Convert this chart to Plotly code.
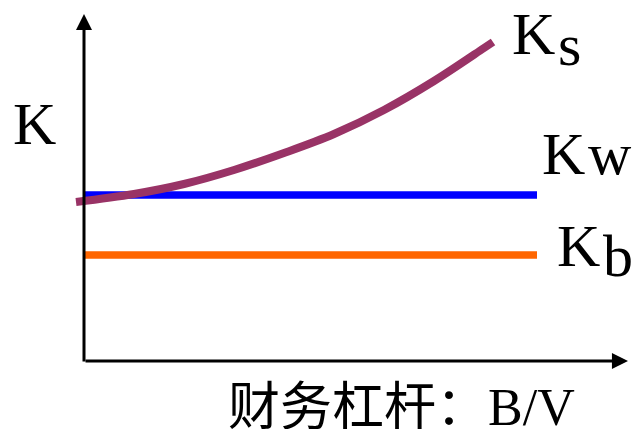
import plotly.graph_objects as go

# Financial leverage (B/V) on the x axis, cost of capital K on the y axis
leverage_ks = [-0.016, 0.1, 0.2, 0.3, 0.4, 0.5, 0.6, 0.7, 0.8, 0.818]
k_s = [1.59, 1.67, 1.77, 1.91, 2.08, 2.27, 2.51, 2.80, 3.13, 3.19]

leverage_flat = [0.0, 0.906]
k_w = [1.66, 1.66]
k_b = [1.06, 1.06]

axis_end_x = 1.088
axis_end_y = 3.47

SERIF = "Liberation Serif"
CJK = "Noto Sans CJK SC"

fig = go.Figure()
fig.add_trace(go.Scatter(x=leverage_flat, y=k_w, mode="lines",
                         line=dict(color="#0000FF", width=7.5), hoverinfo="skip"))
fig.add_trace(go.Scatter(x=leverage_flat, y=k_b, mode="lines",
                         line=dict(color="#FF6600", width=7.5), hoverinfo="skip"))
fig.add_trace(go.Scatter(x=leverage_ks, y=k_s, mode="lines",
                         line=dict(color="#993366", width=8, shape="spline"),
                         hoverinfo="skip"))

# Axes with arrowheads
for tip, base in [((0, axis_end_y), (0, -0.02)), ((axis_end_x, 0), (0, 0))]:
    fig.add_annotation(x=tip[0], y=tip[1], ax=base[0], ay=base[1],
                       xref="x", yref="y", axref="x", ayref="y",
                       showarrow=True, arrowhead=2, arrowsize=1.07,
                       arrowwidth=3, arrowcolor="black", text="")

def label(text, px, py, size, anchor="left"):
    fig.add_annotation(x=px / 636, y=1 - py / 429, xref="paper", yref="paper",
                       text=text, showarrow=False, xanchor=anchor, yanchor="middle",
                       font=dict(family=SERIF, size=size, color="black"))

label("K", 11, 124, 60)
label("K", 510, 34, 60)
label("s", 556, 45, 60)
label("K", 540, 154, 60)
label("w", 586, 154, 60)
label("K", 555, 246, 60)
label("b", 601, 256, 60)
fig.add_annotation(x=226 / 636, y=1 - 402 / 429, xref="paper", yref="paper",
                   text=(f"<span style='font-family:{CJK}'>财务杠杆：</span>"
                         f"<span style='font-family:{SERIF}'>B/V</span>"),
                   showarrow=False, xanchor="left", yanchor="middle",
                   font=dict(family=CJK, size=52, color="black"))

fig.update_layout(
    width=636, height=429,
    margin=dict(l=0, r=0, t=0, b=0),
    paper_bgcolor="white", plot_bgcolor="white",
    showlegend=False,
    xaxis=dict(range=[-0.168, 1.104], visible=False, fixedrange=True),
    yaxis=dict(range=[-0.68, 3.61], visible=False, fixedrange=True),
)

fig.write_html("out.html")
